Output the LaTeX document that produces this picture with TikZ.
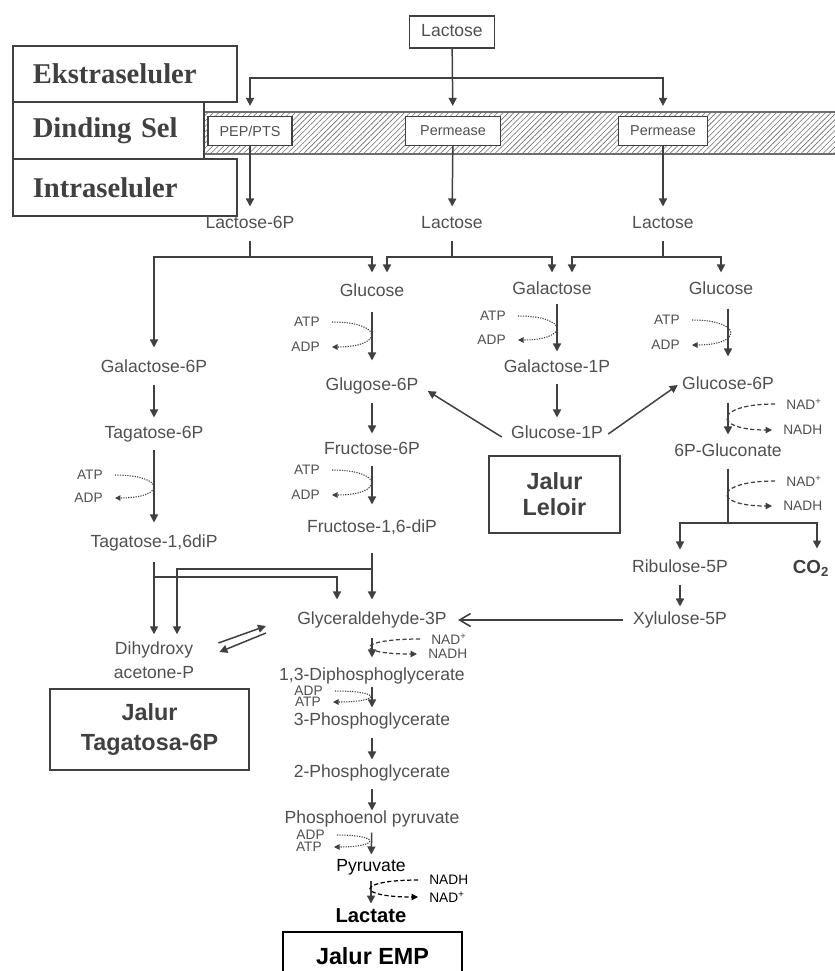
\documentclass[tikz,border=0pt]{standalone}
\usepackage{fontspec}
\setmainfont{Liberation Sans}
\newfontfamily\zoneserif{Liberation Serif}
\usetikzlibrary{arrows.meta,calc,patterns.meta}
\definecolor{Ink}{RGB}{80,80,80}
\definecolor{Wire}{RGB}{64,64,64}
\definecolor{Hatch}{RGB}{110,110,110}
\tikzset{
  chem/.style={text=Ink,font=\fontsize{10}{13.6}\selectfont,inner sep=0pt},
  met/.style={chem,text height=7.3pt,text depth=2pt},
  metblack/.style={met,text=black},
  metbold/.style={met,text=black,font=\bfseries\fontsize{11.5}{13}\selectfont,text height=8.4pt},
  zone/.style={draw=Wire,line width=.9pt,anchor=north west,align=left,inner xsep=.4cm,text=Wire,font=\zoneserif\bfseries\fontsize{16.3}{18}\selectfont},
  membox/.style={draw=Wire,fill=white,line width=.7pt,text=Ink,font=\fontsize{8.2}{10}\selectfont,minimum height=.58cm,inner xsep=1pt},
  jalur/.style={draw=Wire,line width=.9pt,align=center,text=Wire,font=\bfseries\fontsize{13.3}{14.7}\selectfont},
  cof/.style={text=Ink,font=\fontsize{7.8}{9}\selectfont,inner ysep=0pt},
  cofL/.style={cof,anchor=east,inner xsep=.24cm},
  cofR/.style={cof,anchor=west,inner xsep=.22cm},
  ln/.style={line width=.85pt,draw=Wire},
  arr/.style={ln,-{Triangle[length=1.6mm,width=1.6mm]}},
  stp/.style={arr,shorten <=.16cm,shorten >=.16cm},
  barb/.style={ln,line width=.9pt,-{Straight Barb[length=2.2mm,width=2.6mm]}},
  cofdot/.style={-{Triangle[length=1.1mm,width=1.1mm]},line width=.6pt,draw=Wire,dash pattern=on .7pt off .7pt},
  cofdash/.style={-{Triangle[length=1.3mm,width=1.3mm]},line width=.7pt,draw=Wire,dash pattern=on 2.4pt off 1.4pt}
}
\begin{document}
\begin{tikzpicture}[x=0.02cm,y=-0.02cm]
  \path[use as bounding box,fill=white] (0,0) rectangle (835,971);

  \fill[pattern={Lines[angle=45,distance=2.2pt,line width=.35pt]},pattern color=Hatch] (203,112) rectangle (835,154);
  \draw[ln,draw=Hatch] (203,112) -- (835,112) (203,154) -- (835,154);

  \node[zone,text width=3.68cm,minimum height=1.12cm] (ekstra) at (12,45) {Ekstraseluler};
  \node[zone,text width=3.02cm,minimum height=1.14cm] (dinding) at (12,101) {Dinding Sel};
  \node[zone,text width=3.68cm,minimum height=1.14cm] (intra) at (12,158) {Intraseluler};

  \node[met,draw=Wire,line width=.7pt,minimum width=1.7cm,minimum height=.64cm] (lacTop) at (452,32) {Lactose};
  \node[membox,minimum width=1.68cm] (pts) at (250,131) {PEP/PTS};
  \node[membox,minimum width=1.9cm] (perm1) at (453,131) {Permease};
  \node[membox,minimum width=1.78cm] (perm2) at (663,131) {Permease};

  \node[met] (lac6p) at (250,224) {Lactose-6P};
  \node[met] (lacM) at (452,224) {Lactose};
  \node[met] (lacR) at (663,224) {Lactose};
  \node[met] (glc) at (372,292) {Glucose};
  \node[met] (gal) at (552,290) {Galactose};
  \node[met] (glcR) at (721,290) {Glucose};
  \node[met] (gal6p) at (154,368) {Galactose-6P};
  \node[met] (tag6p) at (154,434) {Tagatose-6P};
  \node[met] (tagdip) at (154,543) {Tagatose-1,6diP};
  \node[chem,align=center] (dhap) at (154,660) {Dihydroxy\\acetone-P};
  \node[met] (g6p) at (372,386) {Glugose-6P};
  \node[met] (f6p) at (372,450) {Fructose-6P};
  \node[met] (fdp) at (372,528) {Fructose-1,6-diP};
  \node[met] (gap) at (372,620) {Glyceraldehyde-3P};
  \node[met] (dpg) at (372,676) {1,3-Diphosphoglycerate};
  \node[met] (pg3) at (372,721) {3-Phosphoglycerate};
  \node[met] (pg2) at (372,773) {2-Phosphoglycerate};
  \node[met] (pep) at (372,819) {Phosphoenol pyruvate};
  \node[metblack] (pyr) at (371,867) {Pyruvate};
  \node[metbold] (lac) at (371,917) {Lactate};
  \node[met] (gal1p) at (557,368) {Galactose-1P};
  \node[met] (glc1p) at (557,434) {Glucose-1P};
  \node[met] (g6pR) at (728,385) {Glucose-6P};
  \node[met] (gluc6p) at (728,452) {6P-Gluconate};
  \node[met] (ru5p) at (680,568) {Ribulose-5P};
  \node[met] (xu5p) at (680,620) {Xylulose-5P};
  \node[metbold,text=Wire,font=\bfseries\fontsize{10.7}{12}\selectfont] (co2) at (811,568) {CO\textsubscript{2}};

  \node[jalur,minimum width=2.62cm,minimum height=1.54cm] (leloir) at (554.5,494.5) {Jalur\\Leloir};
  \node[jalur,font=\bfseries\fontsize{13.3}{17}\selectfont,minimum width=3.98cm,minimum height=1.62cm] (tagbox) at (149.5,729.5) {Jalur\\Tagatosa-6P};
  \node[jalur,draw=black,text=black,minimum width=3.58cm,minimum height=.96cm] (emp) at (372.5,956) {Jalur EMP};

  \coordinate (fork) at (452,78);
  \draw[arr,shorten >=.2cm] (lacTop) -- (perm1);
  \draw[arr,shorten >=.2cm] (fork) -| (pts);
  \draw[arr,shorten >=.2cm] (fork) -| (perm2);
  \draw[arr,shorten >=.18cm] (pts) -- (lac6p);
  \draw[arr,shorten >=.18cm] (perm1) -- (lacM);
  \draw[arr,shorten >=.18cm] (perm2) -- (lacR);

  \coordinate (b1) at (250,257);
  \coordinate (b2) at (452,257);
  \coordinate (b3) at (663,257);
  \draw[ln,shorten <=.16cm] (lac6p) -- (b1);
  \draw[arr,shorten >=.24cm] (b1) -| (gal6p);
  \draw[arr,shorten >=.22cm] (b1) -| (glc);
  \draw[ln,shorten <=.16cm] (lacM) -- (b2);
  \draw[arr,shorten >=.22cm] (b2) -| ([shift={(15,0)}]glc.north);
  \draw[arr,shorten >=.18cm] (b2) -| (gal);
  \draw[ln,shorten <=.16cm] (lacR) -- (b3);
  \draw[arr,shorten >=.18cm] (b3) -| ([shift={(20,0)}]gal.north);
  \draw[arr,shorten >=.18cm] (b3) -| (glcR);

  \draw[stp] (gal6p) -- (tag6p);
  \draw[arr,shorten <=.14cm,shorten >=.24cm] (tag6p) -- (tagdip);
  \draw[arr,shorten <=.2cm,shorten >=.14cm] (tagdip) -- (dhap);
  \draw[arr,shorten <=.22cm,shorten >=.34cm] (glc) -- (g6p);
  \draw[stp] (g6p) -- (f6p);
  \draw[arr,shorten <=.14cm,shorten >=.3cm] (f6p) -- (fdp);
  \draw[arr,shorten <=.32cm,shorten >=.24cm] (fdp) -- (gap);
  \draw[arr,shorten <=.18cm,shorten >=.2cm] (gap) -- (dpg);
  \draw[arr,shorten <=.04cm,shorten >=.1cm] (dpg) -- (pg3);
  \draw[arr,shorten <=.16cm,shorten >=.1cm] (pg3) -- (pg2);
  \draw[arr,shorten <=.14cm] (pg2) -- (pep);
  \draw[arr,shorten <=.1cm,shorten >=.08cm] (pep) -- (pyr);
  \draw[arr,shorten <=.1cm,shorten >=.08cm] (pyr) -- (lac);

  \coordinate (fj) at (372,569);
  \coordinate (tj) at (154,577);
  \draw[arr,shorten >=.14cm] (fj) -| ([shift={(23,0)}]dhap.north);
  \draw[arr,shorten >=.24cm] (tj) -| ([shift={(-35,0)}]gap.north);
  \draw[arr] ([shift={(24,-17)}]dhap.east) -- ([shift={(-31,6)}]gap.west);
  \draw[arr] ([shift={(-31,13)}]gap.west) -- ([shift={(25,-8)}]dhap.east);

  \draw[arr,shorten <=.1cm,shorten >=.16cm] (gal.south -| gal1p) -- (gal1p);
  \draw[arr,shorten <=.14cm,shorten >=.16cm] (gal1p) -- (glc1p);
  \draw[arr] ([shift={(-9,3)}]glc1p.west) -- ([shift={(9,5)}]g6p.east);
  \draw[arr] ([shift={(5,0)}]glc1p.east) -- ([shift={(-4,0)}]g6pR.west);

  \draw[arr,shorten <=.2cm,shorten >=.4cm] (glcR.south -| g6pR) -- (g6pR);
  \draw[arr,shorten <=.18cm,shorten >=.18cm] (g6pR) -- (gluc6p);
  \coordinate (hj) at (728,523);
  \draw[ln,shorten <=.16cm] (gluc6p) -- (hj);
  \draw[arr,shorten >=.2cm] (hj) -| (ru5p);
  \draw[arr,shorten >=.2cm] (hj) -| ([shift={(6,0)}]co2.north);
  \draw[arr,shorten <=.16cm,shorten >=.1cm] (ru5p) -- (xu5p);
  \draw[barb,shorten >=.22cm] ([shift={(-10,0)}]xu5p.west) -- (gap.east);

  \node[cofL] (atpT) at (115,475) {ATP};
  \node[cofL] (adpT) at (115,498) {ADP};
  \draw[cofdot] (atpT.east) .. controls +(51,0) and +(51,0) .. (adpT.east);
  \node[cofL] (atpG) at (332,322) {ATP};
  \node[cofL] (adpG) at (332,347) {ADP};
  \draw[cofdot] (atpG.east) .. controls +(52,0) and +(52,0) .. (adpG.east);
  \node[cofL] (atpF) at (332,470) {ATP};
  \node[cofL] (adpF) at (332,495) {ADP};
  \draw[cofdot] (atpF.east) .. controls +(52,0) and +(52,0) .. (adpF.east);
  \node[cofL] (atpL) at (518,316) {ATP};
  \node[cofL] (adpL) at (518,340) {ADP};
  \draw[cofdot] (atpL.east) .. controls +(51,0) and +(51,0) .. (adpL.east);
  \node[cofL] (atpH) at (692,320) {ATP};
  \node[cofL] (adpH) at (692,345) {ADP};
  \draw[cofdot] (atpH.east) .. controls +(51,0) and +(51,0) .. (adpH.east);
  \node[cofL] (adpD) at (335,691) {ADP};
  \node[cofL] (atpD) at (333,702) {ATP};
  \draw[cofdot] (adpD.east) .. controls +(48,0) and +(48,0) .. (atpD.east);
  \node[cofL] (adpP) at (337,835) {ADP};
  \node[cofL] (atpP) at (334,847) {ATP};
  \draw[cofdot] (adpP.east) .. controls +(45,0) and +(45,0) .. (atpP.east);

  \node[cofR] (nadA) at (775,404) {NAD\textsuperscript{+}};
  \node[cofR] (nadhA) at (772,430) {NADH};
  \draw[cofdash] (nadA.west) .. controls +(-61,0) and +(-61,0) .. (nadhA.west);
  \node[cofR] (nadB) at (775,481) {NAD\textsuperscript{+}};
  \node[cofR] (nadhB) at (772,506) {NADH};
  \draw[cofdash] (nadB.west) .. controls +(-61,0) and +(-61,0) .. (nadhB.west);
  \node[cofR] (nadC) at (420,639) {NAD\textsuperscript{+}};
  \node[cofR] (nadhC) at (417,654) {NADH};
  \draw[cofdash] (nadC.west) .. controls +(-64,0) and +(-64,0) .. (nadhC.west);
  \node[cofR,text=black] (nadhP) at (418,880) {NADH};
  \node[cofR,text=black] (nadP) at (418,897) {NAD\textsuperscript{+}};
  \draw[cofdash,draw=black] (nadhP.west) .. controls +(-63,0) and +(-63,0) .. (nadP.west);
\end{tikzpicture}
\end{document}
